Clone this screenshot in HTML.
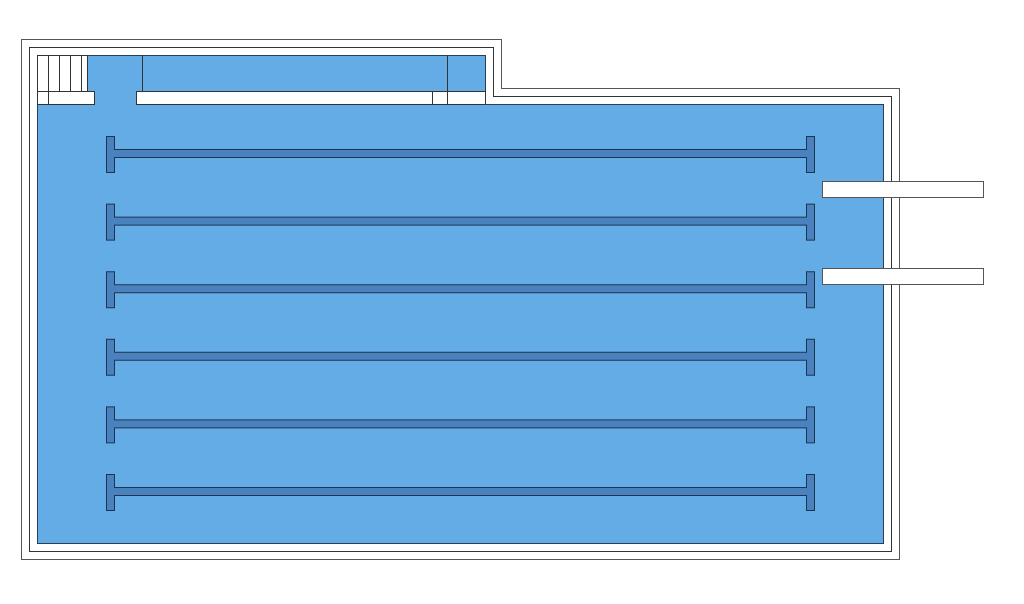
<!DOCTYPE html>
<html><head><meta charset="utf-8"><style>html,body{margin:0;padding:0;background:#fff}svg{display:block}</style></head>
<body>
<svg width="1024" height="604" viewBox="0 0 1024 604" xmlns="http://www.w3.org/2000/svg">
<rect width="1024" height="604" fill="#fff"/>
<path d="M21.5,39.5 H501.5 V88.5 H899.5 V559.5 H21.5 Z" fill="#fff" stroke="#555" stroke-width="1"/>
<path d="M29.5,47.5 H493.5 V96.5 H891.5 V551.5 H29.5 Z" fill="#fff" stroke="#333" stroke-width="1"/>
<path d="M37.5,55.5 H485.5 V104.5 H883.5 V543.5 H37.5 Z" fill="#64ace6" stroke="#2a3f55" stroke-width="1"/>
<!-- stairs -->
<rect x="37.5" y="55.5" width="50" height="36" fill="#fff" stroke="#333"/>
<g stroke="#333"><line x1="48.5" y1="55" x2="48.5" y2="104"/><line x1="59.5" y1="55" x2="59.5" y2="91"/><line x1="70.5" y1="55" x2="70.5" y2="91"/><line x1="81.5" y1="55" x2="81.5" y2="91"/></g>
<rect x="37.5" y="91.5" width="57" height="13" fill="#fff" stroke="#333"/>
<line x1="48.5" y1="91" x2="48.5" y2="104" stroke="#333"/>
<!-- top wall -->
<rect x="136.5" y="91.5" width="349" height="13" fill="#fff" stroke="#333"/>
<g stroke="#333"><line x1="142.5" y1="55" x2="142.5" y2="91"/><line x1="447.5" y1="55" x2="447.5" y2="104"/><line x1="432.5" y1="91" x2="432.5" y2="104"/></g>
<!-- bars -->
<g fill="#4a82c0" stroke="#1e3550" stroke-width="1">
<path id="b" d="M106.5,136.5 H114.5 V149.5 H806.5 V136.5 H814.5 V172.5 H806.5 V157.5 H114.5 V172.5 H106.5 Z"/>
<use href="#b" y="67.6"/><use href="#b" y="135.2"/><use href="#b" y="202.8"/><use href="#b" y="270.4"/><use href="#b" y="338"/>
</g>
<!-- right boxes -->
<rect x="822.5" y="181.5" width="161" height="16" fill="#fff" stroke="#555"/>
<rect x="822.5" y="268.5" width="161" height="16" fill="#fff" stroke="#555"/>
</svg>
</body></html>
